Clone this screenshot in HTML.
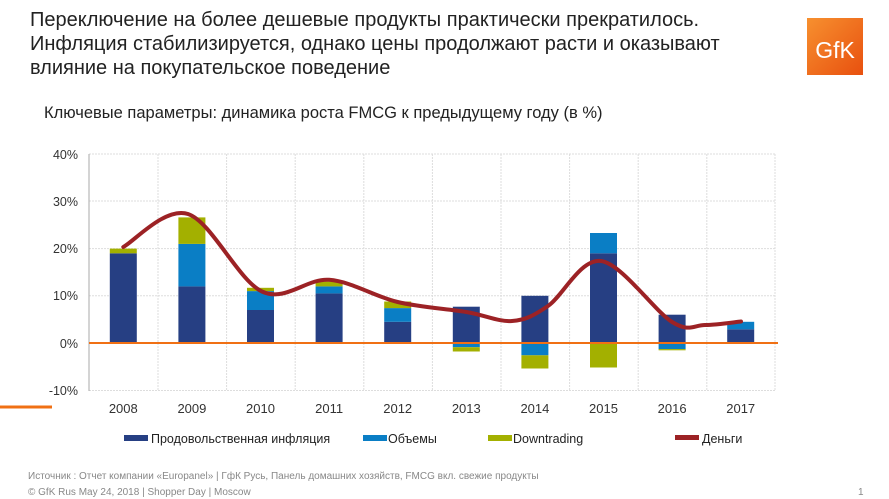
<!DOCTYPE html>
<html><head><meta charset="utf-8"><style>
body{margin:0;width:889px;height:499px;background:#fff;font-family:"Liberation Sans",sans-serif;overflow:hidden;position:relative}
.t{position:absolute;left:30px;top:8px;font-size:20px;line-height:24px;color:#222}
.s{position:absolute;left:44px;top:104px;font-size:16.5px;color:#222}
</style></head><body>
<div class="t">Переключение на более дешевые продукты практически прекратилось.<br>Инфляция стабилизируется, однако цены продолжают расти и оказывают<br>влияние на покупательское поведение</div>
<div class="s">Ключевые параметры: динамика роста FMCG к предыдущему году (в %)</div>
<svg width="889" height="499" style="position:absolute;left:0;top:0">
<defs><linearGradient id="g" x1="0" y1="0" x2="1" y2="1"><stop offset="0" stop-color="#f7902f"/><stop offset="1" stop-color="#e8500f"/></linearGradient></defs>
<rect x="807" y="18" width="56" height="57" fill="url(#g)"/>
<text x="835" y="58" font-size="23" fill="#fff" text-anchor="middle" font-family="Liberation Sans">GfK</text>
<g stroke="#ddd" stroke-width="1" stroke-dasharray="2,1">
<line x1="89" y1="154" x2="775" y2="154"/><line x1="89" y1="201" x2="775" y2="201"/><line x1="89" y1="248.6" x2="775" y2="248.6"/><line x1="89" y1="295.8" x2="775" y2="295.8"/><line x1="89" y1="390.5" x2="775" y2="390.5"/>
<line x1="158" y1="154" x2="158" y2="391"/><line x1="226.6" y1="154" x2="226.6" y2="391"/><line x1="295.2" y1="154" x2="295.2" y2="391"/><line x1="363.8" y1="154" x2="363.8" y2="391"/><line x1="432.4" y1="154" x2="432.4" y2="391"/><line x1="501" y1="154" x2="501" y2="391"/><line x1="569.6" y1="154" x2="569.6" y2="391"/><line x1="638.2" y1="154" x2="638.2" y2="391"/><line x1="706.8" y1="154" x2="706.8" y2="391"/><line x1="775" y1="154" x2="775" y2="391"/>
</g>
<line x1="89" y1="154" x2="89" y2="391" stroke="#aaa"/>
<g font-size="12.5" fill="#333" text-anchor="end"><text x="78" y="159">40%</text><text x="78" y="206">30%</text><text x="78" y="253">20%</text><text x="78" y="300">10%</text><text x="78" y="348">0%</text><text x="78" y="395">-10%</text></g>
<g font-size="13" fill="#333" text-anchor="middle"><text x="123.3" y="413">2008</text><text x="191.9" y="413">2009</text><text x="260.5" y="413">2010</text><text x="329.1" y="413">2011</text><text x="397.7" y="413">2012</text><text x="466.3" y="413">2013</text><text x="534.9" y="413">2014</text><text x="603.5" y="413">2015</text><text x="672.1" y="413">2016</text><text x="740.7" y="413">2017</text></g>
<g>
<rect x="109.8" y="253.3" width="27" height="89.7" fill="#263f83"/><rect x="109.8" y="248.6" width="27" height="4.7" fill="#a3b000"/>
<rect x="178.4" y="286.4" width="27" height="56.6" fill="#263f83"/><rect x="178.4" y="243.9" width="27" height="42.5" fill="#0a7ec5"/><rect x="178.4" y="217.4" width="27" height="26.5" fill="#a3b000"/>
<rect x="247" y="310" width="27" height="33" fill="#263f83"/><rect x="247" y="291.1" width="27" height="18.9" fill="#0a7ec5"/><rect x="247" y="287.8" width="27" height="3.3" fill="#a3b000"/>
<rect x="315.6" y="293.4" width="27" height="49.6" fill="#263f83"/><rect x="315.6" y="286.4" width="27" height="7" fill="#0a7ec5"/><rect x="315.6" y="281.6" width="27" height="4.8" fill="#a3b000"/>
<rect x="384.2" y="321.8" width="27" height="21.2" fill="#263f83"/><rect x="384.2" y="308.1" width="27" height="13.7" fill="#0a7ec5"/><rect x="384.2" y="301.5" width="27" height="6.6" fill="#a3b000"/>
<rect x="452.8" y="306.7" width="27" height="36.3" fill="#263f83"/><rect x="452.8" y="343" width="27" height="4.2" fill="#0a7ec5"/><rect x="452.8" y="347.2" width="27" height="4.3" fill="#a3b000"/>
<rect x="521.4" y="295.8" width="27" height="47.2" fill="#263f83"/><rect x="521.4" y="343" width="27" height="12.3" fill="#0a7ec5"/><rect x="521.4" y="355.3" width="27" height="13.2" fill="#a3b000"/>
<rect x="590" y="253.3" width="27" height="89.7" fill="#263f83"/><rect x="590" y="233" width="27" height="20.3" fill="#0a7ec5"/><rect x="590" y="343" width="27" height="24.5" fill="#a3b000"/>
<rect x="658.6" y="314.7" width="27" height="28.3" fill="#263f83"/><rect x="658.6" y="343" width="27" height="6.1" fill="#0a7ec5"/><rect x="658.6" y="349.1" width="27" height="1.2" fill="#a3b000"/>
<rect x="727.2" y="329.3" width="27" height="13.7" fill="#263f83"/><rect x="727.2" y="321.8" width="27" height="7.5" fill="#0a7ec5"/>
</g>
<line x1="89" y1="343" x2="778" y2="343" stroke="#f07014" stroke-width="2"/>
<path id="ln" d="" fill="none" stroke="#9c2225" stroke-width="4" stroke-linecap="round"/>
<line x1="0" y1="407" x2="52" y2="407" stroke="#f07014" stroke-width="3"/>
<g font-size="12.5" fill="#222">
<rect x="124" y="435" width="24" height="6" fill="#263f83"/><text x="151" y="443">Продовольственная инфляция</text>
<rect x="363" y="435" width="24" height="6" fill="#0a7ec5"/><text x="388" y="443">Объемы</text>
<rect x="488" y="435" width="24" height="6" fill="#a3b000"/><text x="513" y="443">Downtrading</text>
<rect x="675" y="435" width="24" height="5" fill="#9c2225"/><text x="702" y="443">Деньги</text>
</g>
<g font-size="10" fill="#888"><text x="28" y="479">Источник : Отчет компании «Europanel» | ГфК Русь, Панель домашних хозяйств, FMCG вкл. свежие продукты</text><text x="28" y="495">© GfK Rus May 24, 2018 | Shopper Day | Moscow</text><text x="858" y="495">1</text></g>
</svg>
<script>
var p=[[123.3,247],[188,214],[262,291.5],[329.1,279.8],[397.7,302],[466.3,312],[512,321],[548,306],[601,261],[672.1,322],[705,325],[741,321.5]];
var d="M"+p[0][0]+","+p[0][1];
for(var i=0;i<p.length-1;i++){var a=p[Math.max(0,i-1)],b=p[i],c=p[i+1],e=p[Math.min(p.length-1,i+2)];
d+=" C"+(b[0]+(c[0]-a[0])/6)+","+(b[1]+(c[1]-a[1])/6)+" "+(c[0]-(e[0]-b[0])/6)+","+(c[1]-(e[1]-b[1])/6)+" "+c[0]+","+c[1];}
document.getElementById("ln").setAttribute("d",d);
</script>
</body></html>
